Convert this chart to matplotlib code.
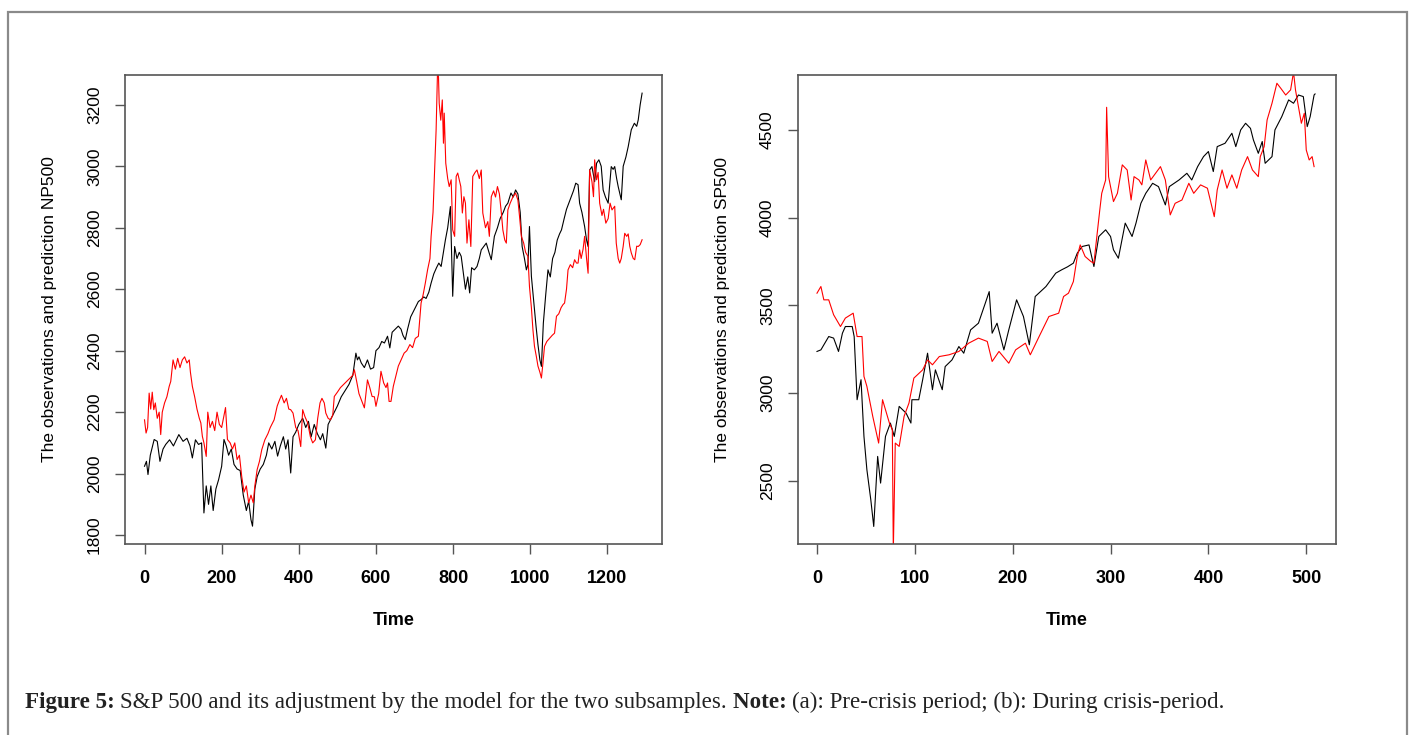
import matplotlib
matplotlib.use("Agg")
import matplotlib.pyplot as plt
from matplotlib.patches import Rectangle

# ---- data (time index, index level) ----
# (a) pre-crisis period: observed NP500 (black) and model prediction (red)
t_a_obs = [0, 5, 9, 15, 25, 33, 40, 48, 55, 65, 75, 89, 100, 110, 118, 124, 132, 140, 148, 154,
           160, 166, 172, 178, 185, 192, 200, 206, 212, 218, 225, 232, 240, 248, 256, 264, 270, 276,
           280, 286, 292, 300, 308, 316, 322, 330, 338, 345, 352, 360, 366, 372, 379, 385, 392, 400,
           410, 418, 425, 432, 440, 448, 456, 462, 470, 476, 484, 492, 500, 510, 520, 530, 540, 548,
           552, 556, 562, 570, 578, 586, 594, 600, 608, 615, 622, 630, 636, 642, 650, 658, 665, 670,
           676, 682, 690, 700, 710, 717, 724, 730, 737, 743, 750, 757, 763, 769, 775, 780, 786, 793,
           799, 804, 810, 816, 821, 827, 832, 838, 843, 848, 855, 862, 868, 873, 880, 886, 893, 899,
           907, 915, 922, 930, 936, 942, 950, 956, 962, 968, 974, 979, 985, 990, 994, 998, 1003, 1009,
           1015, 1020, 1025, 1029, 1034, 1040, 1046, 1052, 1058, 1064, 1070, 1076, 1081, 1088, 1094,
           1100, 1106, 1112, 1118, 1124, 1128, 1134, 1141, 1146, 1150, 1154, 1160, 1167, 1172, 1178,
           1184, 1189, 1195, 1202, 1210, 1215, 1219, 1224, 1228, 1236, 1241, 1248, 1254, 1262, 1270,
           1276, 1280, 1285, 1290]
y_a_obs = [2024, 2040, 1997, 2060, 2111, 2105, 2040, 2080, 2095, 2110, 2090, 2127, 2105, 2115, 2090,
           2051, 2110, 2095, 2100, 1872, 1960, 1900, 1960, 1880, 1950, 1980, 2024, 2111, 2090, 2060,
           2080, 2030, 2015, 2010, 1930, 1880, 1910, 1850, 1829, 1950, 1990, 2015, 2030, 2060, 2100,
           2080, 2105, 2057, 2090, 2120, 2080, 2110, 2002, 2120, 2135, 2160, 2180, 2150, 2170, 2120,
           2160, 2130, 2110, 2130, 2083, 2160, 2180, 2200, 2220, 2250, 2270, 2290, 2320, 2392, 2370,
           2380, 2360, 2345, 2370, 2340, 2345, 2400, 2410, 2430, 2425, 2447, 2409, 2460, 2470, 2480,
           2470, 2450, 2436, 2470, 2510, 2535, 2560, 2566, 2575, 2570, 2590, 2620, 2650, 2670, 2685,
           2674, 2720, 2760, 2800, 2869, 2577, 2739, 2700, 2720, 2707, 2650, 2600, 2640, 2588, 2670,
           2663, 2674, 2700, 2728, 2740, 2750, 2720, 2696, 2772, 2800, 2830, 2850, 2870, 2880, 2913,
           2900, 2923, 2910, 2850, 2739, 2700, 2663, 2680, 2804, 2642, 2560, 2480, 2420, 2370, 2349,
           2490, 2580, 2663, 2640, 2700, 2720, 2760, 2780, 2793, 2830, 2860, 2880, 2901, 2920, 2945,
           2940, 2880, 2850, 2804, 2760, 2739, 2988, 2999, 2950, 3010, 3021, 3000, 2923, 2900, 2880,
           2999, 2990, 2999, 2960, 2934, 2891, 3000, 3030, 3064, 3119, 3140, 3130, 3151, 3200, 3238]

t_a_pred = [0, 4, 8, 12, 16, 20, 24, 28, 33, 38, 42, 46, 52, 58, 64, 68, 74, 80, 86, 92, 98, 104,
            110, 116, 119, 124, 130, 136, 142, 146, 150, 154, 160, 164, 170, 176, 182, 188, 194, 200,
            206, 210, 215, 222, 228, 234, 240, 246, 252, 258, 264, 270, 276, 282, 286, 292, 298, 304,
            312, 320, 326, 336, 344, 350, 355, 362, 368, 374, 379, 385, 392, 398, 405, 410, 416, 423,
            430, 436, 443, 449, 455, 460, 466, 470, 476, 482, 488, 492, 500, 508, 516, 524, 532, 540,
            544, 550, 556, 562, 570, 578, 584, 590, 596, 600, 607, 613, 620, 626, 630, 634, 639, 645,
            652, 658, 665, 673, 680, 688, 695, 702, 710, 717, 722, 728, 734, 740, 743, 748, 752, 756,
            758, 760, 762, 764, 768, 772, 775, 777, 781, 786, 790, 795, 799, 804, 808, 812, 816, 820,
            824, 828, 832, 836, 841, 846, 851, 857, 862, 868, 873, 877, 884, 890, 894, 899, 905, 910,
            915, 920, 925, 929, 934, 938, 942, 948, 955, 962, 968, 972, 977, 983, 988, 994, 998, 1003,
            1007, 1011, 1016, 1020, 1025, 1029, 1033, 1037, 1043, 1050, 1057, 1063, 1068, 1074, 1080,
            1085, 1089, 1094, 1098, 1104, 1110, 1115, 1120, 1124, 1128, 1132, 1137, 1141, 1146, 1150,
            1154, 1160, 1164, 1167, 1172, 1176, 1180, 1186, 1190, 1196, 1202, 1207, 1212, 1219, 1223,
            1228, 1232, 1236, 1241, 1245, 1250, 1254, 1258, 1262, 1267, 1271, 1276, 1280, 1285, 1290]
y_a_pred = [2175, 2132, 2150, 2262, 2210, 2265, 2208, 2230, 2180, 2200, 2127, 2200, 2230, 2250, 2284,
            2300, 2370, 2340, 2375, 2345, 2370, 2380, 2360, 2370, 2330, 2284, 2250, 2210, 2180, 2165,
            2121, 2100, 2056, 2200, 2150, 2170, 2140, 2200, 2160, 2150, 2190, 2215, 2111, 2100, 2080,
            2100, 2046, 2060, 1991, 1940, 1960, 1905, 1930, 1905, 1960, 2013, 2040, 2078, 2110, 2130,
            2150, 2175, 2220, 2240, 2255, 2230, 2245, 2210, 2208, 2197, 2150, 2140, 2088, 2208, 2185,
            2165, 2120, 2100, 2110, 2180, 2230, 2245, 2230, 2197, 2180, 2175, 2190, 2251, 2265, 2280,
            2290, 2300, 2310, 2320, 2338, 2300, 2260, 2240, 2214, 2305, 2280, 2251, 2250, 2219, 2260,
            2333, 2295, 2280, 2295, 2235, 2235, 2284, 2320, 2350, 2370, 2392, 2400, 2420, 2410, 2440,
            2447, 2555, 2580, 2620, 2664, 2700, 2772, 2850, 2988, 3119, 3227, 3330, 3297, 3205, 3150,
            3216, 3075, 3173, 3010, 2960, 2934, 2956, 2793, 2772, 2967, 2978, 2956, 2934, 2848, 2901,
            2880, 2750, 2826, 2739, 2967, 2980, 2988, 2960, 2988, 2848, 2800, 2820, 2772, 2901, 2920,
            2900, 2934, 2910, 2850, 2793, 2760, 2750, 2858, 2880, 2900, 2913, 2890, 2840, 2772, 2750,
            2720, 2707, 2609, 2540, 2468, 2414, 2380, 2350, 2330, 2311, 2360, 2414, 2430, 2440, 2450,
            2457, 2512, 2520, 2540, 2550, 2555, 2600, 2663, 2680, 2670, 2696, 2685, 2685, 2728, 2700,
            2730, 2772, 2700, 2652, 2988, 2950, 2901, 3021, 2956, 2980, 2880, 2840, 2860, 2815, 2830,
            2880, 2858, 2870, 2750, 2700, 2685, 2700, 2740, 2782, 2772, 2780, 2740, 2718, 2700, 2696,
            2740, 2739, 2745, 2761]

# (b) during crisis period: observed SP500 (black) and model prediction (red)
t_b_obs = [0, 4, 12, 17, 22, 26, 29, 36, 38, 41, 45, 48, 51, 55, 58, 62, 65, 70, 75, 79, 84, 91,
           96, 97, 104, 108, 113, 118, 121, 128, 131, 138, 145, 150, 157, 165, 172, 176, 179, 184,
           191, 196, 204, 211, 217, 223, 234, 244, 250, 256, 262, 266, 271, 278, 283, 288, 295, 300,
           303, 308, 315, 322, 326, 331, 336, 343, 349, 356, 360, 370, 378, 383, 389, 395, 400, 405,
           409, 417, 424, 428, 433, 438, 443, 446, 451, 455, 458, 465, 468, 475, 482, 487, 492, 497,
           501, 504, 508, 509]
y_b_obs = [3238, 3247, 3323, 3314, 3238, 3342, 3380, 3380, 3323, 2963, 3077, 2754, 2564, 2393, 2241,
           2640, 2488, 2754, 2830, 2754, 2925, 2887, 2830, 2963, 2963, 3077, 3228, 3020, 3133, 3020,
           3152, 3190, 3266, 3228, 3361, 3399, 3513, 3579, 3342, 3399, 3247, 3361, 3532, 3437, 3276,
           3551, 3608, 3684, 3703, 3720, 3741, 3798, 3836, 3845, 3722, 3893, 3931, 3893, 3817, 3769,
           3969, 3893, 3969, 4082, 4139, 4196, 4177, 4073, 4177, 4215, 4253, 4215, 4291, 4348, 4377,
           4263, 4405, 4424, 4481, 4405, 4500, 4538, 4509, 4443, 4367, 4434, 4310, 4348, 4500, 4576,
           4671, 4652, 4699, 4690, 4519, 4576, 4699, 4705]

t_b_pred = [0, 4, 7, 12, 17, 24, 29, 37, 41, 46, 48, 51, 57, 63, 67, 74, 77, 78, 80, 84, 89, 94, 99,
            108, 113, 118, 125, 135, 145, 155, 165, 174, 179, 186, 196, 203, 213, 218, 227, 237, 247,
            252, 257, 262, 266, 269, 274, 280, 283, 286, 289, 291, 295, 296, 298, 300, 303, 307, 312,
            317, 321, 324, 329, 332, 336, 341, 346, 351, 356, 361, 366, 373, 380, 385, 392, 399, 406,
            409, 414, 419, 424, 429, 434, 440, 445, 451, 453, 457, 460, 465, 470, 474, 479, 484, 487,
            489, 492, 495, 498, 500, 503, 506, 508]
y_b_pred = [3570, 3608, 3532, 3532, 3447, 3380, 3428, 3456, 3323, 3323, 3096, 3039, 2868, 2716, 2963,
            2830, 2792, 2100, 2716, 2697, 2868, 2944, 3086, 3133, 3190, 3162, 3209, 3219, 3238, 3285,
            3314, 3295, 3181, 3238, 3171, 3247, 3285, 3219, 3323, 3437, 3456, 3551, 3570, 3636, 3779,
            3845, 3779, 3750, 3741, 3893, 4044, 4139, 4215, 4629, 4234, 4177, 4092, 4139, 4301, 4272,
            4101, 4234, 4215, 4187, 4329, 4215, 4253, 4291, 4215, 4016, 4082, 4101, 4196, 4139, 4187,
            4168, 4006, 4158, 4272, 4168, 4244, 4168, 4272, 4348, 4272, 4234, 4348, 4405, 4557, 4652,
            4766, 4737, 4699, 4728, 4830, 4728, 4633, 4538, 4595, 4386, 4329, 4348, 4291]

panels = [
    (t_a_obs, y_a_obs, t_a_pred, y_a_pred, (-50.6, 1341.6), (1771, 3297),
     [0, 200, 400, 600, 800, 1000, 1200], [1800, 2000, 2200, 2400, 2600, 2800, 3000, 3200],
     "The observations and prediction NP500"),
    (t_b_obs, y_b_obs, t_b_pred, y_b_pred, (-19.4, 530.4), (2141, 4813),
     [0, 100, 200, 300, 400, 500], [2500, 3000, 3500, 4000, 4500],
     "The observations and prediction SP500"),
]

W, H = 1412, 735
fig = plt.figure(figsize=(W / 100, H / 100), dpi=100)
fig.patch.set_facecolor("white")

# outer frame of the figure box
fig.add_artist(Rectangle((8 / W, -0.05), (1407 - 8) / W, 1.05 - 12 / H,
                         transform=fig.transFigure, fill=False,
                         edgecolor="#8a8a8a", lw=1.6))

boxes = [(125, 662), (798, 1336)]
sans = ["Liberation Sans", "DejaVu Sans"]
frame_col = "#555555"

for (x0, x1), (to, yo, tp, yp, xl, yl, xt, yt, ylab) in zip(boxes, panels):
    ax = fig.add_axes([x0 / W, 1 - 544 / H, (x1 - x0) / W, (544 - 75) / H])
    ax.plot(to, yo, color="black", lw=0.8)
    ax.plot(tp, yp, color="red", lw=0.8)
    ax.set_xlim(*xl)
    ax.set_ylim(*yl)
    for s in ax.spines.values():
        s.set_color(frame_col)
        s.set_linewidth(1.2)
    ax.set_xticks(xt)
    ax.set_yticks(yt)
    ax.set_xticklabels([str(v) for v in xt], family=sans, fontsize=13, weight="bold")
    ax.set_yticklabels([str(v) for v in yt], family=sans, fontsize=12.5,
                       rotation=90, va="center")
    ax.tick_params(axis="both", direction="out", length=7.5, width=1.0, color=frame_col)
    ax.tick_params(axis="x", pad=11)
    ax.tick_params(axis="y", pad=9)
    ax.set_xlabel("Time", family=sans, fontsize=13, weight="bold")
    ax.xaxis.set_label_coords(0.5, -0.145)
    ax.set_ylabel(ylab, family=sans, fontsize=12.5)
    ax.yaxis.set_label_coords(-0.126, 0.5)

# caption: bold and regular pieces laid out one after another on a shared baseline
serif = ["Liberation Serif", "DejaVu Serif"]
cap_size = 16.6
parts = [("Figure 5: ", "bold"),
         ("S&P 500 and its adjustment by the model for the two subsamples. ", "normal"),
         ("Note: ", "bold"),
         ("(a): Pre-crisis period; (b): During crisis-period.", "normal")]
renderer = fig.canvas.get_renderer()
x_px = 25
for txt, wt in parts:
    t = fig.text(x_px / W, 1 - 708 / H, txt, family=serif, fontsize=cap_size,
                 weight=wt, va="baseline", ha="left", color="#222222")
    x_px += t.get_window_extent(renderer).width

fig.savefig("out.png", dpi=100)
